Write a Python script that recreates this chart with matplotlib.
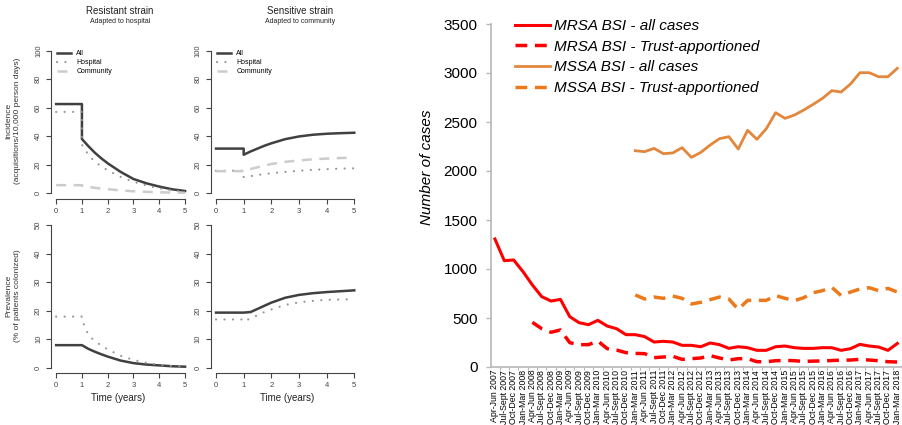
import numpy as np
import matplotlib
matplotlib.use("Agg")
import matplotlib.pyplot as plt

plt.rcParams['font.family'] = ['Liberation Sans', 'DejaVu Sans']

# ---------------- left: model output (4 panels) ----------------
t_grid = [0, 1, 1, 1.25, 1.5, 1.75, 2, 2.5, 3, 3.5, 4, 4.5, 5]

res_inc_all = [62.5, 62.5, 38, 33, 28.4, 24.5, 21, 15, 10, 7, 4.7, 2.8, 1.6]
res_inc_hosp = [57, 57, 34, 27, 22, 19, 16, 11.5, 8, 5.5, 3.5, 2, 1]
res_inc_comm = [5.7, 5.7, 5.3, 4.5, 3.8, 3.3, 2.9, 2, 1.4, 1, 0.7, 0.5, 0.4]

sen_inc_all = [31.3, 31.3, 27, 29.3, 31.3, 33.3, 35, 37.9, 39.8, 41, 41.7, 42.1, 42.4]
sen_inc_hosp = [15.8, 15.8, 11.3, 12, 12.8, 13.5, 14, 15, 15.8, 16.4, 16.9, 17.3, 17.5]
sen_inc_comm = [15.5, 15.5, 16, 17, 18.2, 19.4, 20.5, 22, 23, 23.8, 24.3, 24.7, 25]

res_prev_all = [7.9, 7.9, 7.9, 6.6, 5.6, 4.7, 3.9, 2.5, 1.6, 1.1, 0.8, 0.5, 0.35]
res_prev_hosp = [17.9, 17.9, 16.7, 11.5, 9.3, 7.8, 6.4, 4.2, 2.7, 1.7, 1.0, 0.6, 0.4]

sen_prev_all = [19.3, 19.3, 19.3, 19.5, 20.6, 21.7, 22.8, 24.5, 25.5, 26.1, 26.5, 26.8, 27.1]
sen_prev_hosp = [16.9, 16.9, 16.4, 17.2, 18.4, 19.5, 20.4, 22, 22.9, 23.4, 23.8, 23.9, 24]

# ---------------- right: BSI counts per quarter ----------------
quarters = [
    "Apr-Jun 2007", "Jul-Sept 2007", "Oct-Dec 2007", "Jan-Mar 2008",
    "Apr-Jun 2008", "Jul-Sept 2008", "Oct-Dec 2008", "Jan-Mar 2009",
    "Apr-Jun 2009", "Jul-Sept 2009", "Oct-Dec 2009", "Jan-Mar 2010",
    "Apr-Jun 2010", "Jul-Sept 2010", "Oct-Dec 2010", "Jan-Mar 2011",
    "Apr-Jun 2011", "Jul-Sept 2011", "Oct-Dec 2011", "Jan-Mar 2012",
    "Apr-Jun 2012", "Jul-Sept 2012", "Oct-Dec 2012", "Jan-Mar 2013",
    "Apr-Jun 2013", "Jul-Sept 2013", "Oct-Dec 2013", "Jan-Mar 2014",
    "Apr-Jun 2014", "Jul-Sept 2014", "Oct-Dec 2014", "Jan-Mar 2015",
    "Apr-Jun 2015", "Jul-Sept 2015", "Oct-Dec 2015", "Jan-Mar 2016",
    "Apr-Jun 2016", "Jul-Sept 2016", "Oct-Dec 2016", "Jan-Mar 2017",
    "Apr-Jun 2017", "Jul-Sept 2017", "Oct-Dec 2017", "Jan-Mar 2018",
]
mrsa_all = [1306, 1085, 1092, 973, 837, 718, 673, 690, 513, 452, 432, 476,
            418, 391, 330, 330, 310, 255, 262, 255, 221, 221, 207, 245,
            228, 190, 207, 197, 170, 170, 207, 214, 197, 190, 190, 197,
            197, 170, 187, 231, 214, 204, 170, 240]
mrsa_trust = [np.nan] * 4 + [456, 391, 354, 378, 248, 228, 228, 265, 187, 173,
                             146, 139, 136, 95, 102, 109, 78, 85, 92, 116, 92,
                             71, 85, 85, 54, 54, 64, 68, 64, 57, 60, 62, 66, 70,
                             71, 78, 71, 64, 54, 51]
mssa_all = [np.nan] * 15 + [2207, 2197, 2231, 2177, 2184, 2238, 2139, 2190,
                            2265, 2330, 2350, 2224, 2415, 2323, 2432, 2595,
                            2537, 2571, 2622, 2680, 2741, 2820, 2806, 2888,
                            3003, 3003, 2962, 2962, 3048]
mssa_trust = [np.nan] * 15 + [735, 694, 714, 701, 724, 701, 643, 660, 687, 714,
                              694, 588, 680, 680, 680, 728, 701, 677, 707, 758,
                              779, 813, 728, 765, 796, 809, 779, 802, 765]

W, H = 902, 425


def px_rect(l, t, r, b):
    return [l / W, 1 - b / H, (r - l) / W, (b - t) / H]


fig = plt.figure(figsize=(W / 100, H / 100), dpi=100)

axc = '#444444'
c_all = '#404040'
c_hosp = '#959595'
c_comm = '#cccccc'


def r_style(ax, ymax, yticks):
    ax.set_xlim(-0.2, 5.2)
    ax.set_ylim(-0.04 * ymax, 1.04 * ymax)
    for s in ['top', 'right']:
        ax.spines[s].set_visible(False)
    ax.spines['left'].set_bounds(0, ymax)
    ax.spines['bottom'].set_bounds(0, 5)
    for s in ['left', 'bottom']:
        ax.spines[s].set_color(axc)
        ax.spines[s].set_linewidth(0.8)
    ax.set_xticks(range(6))
    ax.set_yticks(yticks)
    ax.tick_params(colors=axc, labelsize=5.5, length=3.5, width=0.8, pad=3)
    for lab in ax.get_yticklabels():
        lab.set_rotation(90)
        lab.set_va('center')


def curves(ax, all_v, hosp_v, comm_v=None, legend=False):
    ax.plot(t_grid, all_v, color=c_all, lw=1.8, label='All',
            solid_joinstyle='round')
    ax.plot(t_grid, hosp_v, color=c_hosp, lw=1.6, ls=(0, (0.01, 3.8)),
            dash_capstyle='round', label='Hospital')
    if comm_v is not None:
        ax.plot(t_grid, comm_v, color=c_comm, lw=1.8, ls=(0, (4, 3)),
                label='Community')
    if legend:
        ax.legend(loc='upper left', bbox_to_anchor=(0.043, 0.965),
                  frameon=False, fontsize=5, handlelength=2.0,
                  handletextpad=0.8, labelspacing=0.28, borderpad=0,
                  borderaxespad=0)


ax1 = fig.add_axes(px_rect(51, 44.8, 190.2, 199))
curves(ax1, res_inc_all, res_inc_hosp, res_inc_comm, legend=True)
r_style(ax1, 100, [0, 20, 40, 60, 80, 100])

ax2 = fig.add_axes(px_rect(210.5, 44.8, 359.8, 199))
curves(ax2, sen_inc_all, sen_inc_hosp, sen_inc_comm, legend=True)
r_style(ax2, 100, [0, 20, 40, 60, 80, 100])

ax3 = fig.add_axes(px_rect(51, 219.3, 190.2, 373.4))
curves(ax3, res_prev_all, res_prev_hosp)
r_style(ax3, 50, [0, 10, 20, 30, 40, 50])

ax4 = fig.add_axes(px_rect(210.5, 219.3, 359.8, 373.4))
curves(ax4, sen_prev_all, sen_prev_hosp)
r_style(ax4, 50, [0, 10, 20, 30, 40, 50])


def ftext(x, y, s, **kw):
    fig.text(x / W, 1 - y / H, s, ha='center', va='center', **kw)


ftext(120, 10.5, 'Resistant strain', fontsize=7, color='#222222')
ftext(120, 21.5, 'Adapted to hospital', fontsize=5, color='#222222')
ftext(300, 10.5, 'Sensitive strain', fontsize=7, color='#222222')
ftext(300, 21.5, 'Adapted to community', fontsize=5, color='#222222')
ftext(13, 121, 'Incidence\n(acquisitions/10,000 person days)', fontsize=6,
      rotation=90, color='#333333', linespacing=1.25)
ftext(13, 296, 'Prevalence\n(% of patients colonized)', fontsize=6,
      rotation=90, color='#333333', linespacing=1.25)
ftext(118, 398, 'Time (years)', fontsize=7, color='#222222')
ftext(287, 398, 'Time (years)', fontsize=7, color='#222222')

# ---------------- right chart ----------------
ax5 = fig.add_axes(px_rect(491, 24, 902, 367))
x = np.arange(len(quarters))
red = '#ff0000'
org_solid = '#e2873c'
org_dash = '#ec7a1c'
ax5.plot(x, mrsa_all, color=red, lw=2.2, label='MRSA BSI - all cases')
ax5.plot(x, mrsa_trust, color=red, lw=2.5, ls=(0, (3.4, 2.2)),
         label='MRSA BSI - Trust-apportioned')
ax5.plot(x, mssa_all, color=org_solid, lw=2.0, label='MSSA BSI - all cases')
ax5.plot(x, mssa_trust, color=org_dash, lw=2.5, ls=(0, (3.4, 2.2)),
         label='MSSA BSI - Trust-apportioned')
ax5.set_xlim(-0.42, 43.06)
ax5.set_ylim(0, 3500)
for s in ['top', 'right']:
    ax5.spines[s].set_visible(False)
for s in ['left', 'bottom']:
    ax5.spines[s].set_color('#b8b8b8')
    ax5.spines[s].set_linewidth(1.2)
ax5.set_yticks(range(0, 3501, 500))
ax5.tick_params(axis='y', colors='#b8b8b8', labelcolor='black', labelsize=11,
                length=3.6, width=1, pad=6)
ax5.set_xticks(x)
ax5.set_xticklabels(quarters, rotation=90, fontsize=6.3)
ax5.tick_params(axis='x', which='major', length=0, pad=2)
ax5.set_xticks(x + 0.5, minor=True)
ax5.tick_params(axis='x', which='minor', length=2.5, width=0.8,
                colors='#b8b8b8')
ax5.legend(loc='upper left', bbox_to_anchor=(515 / W, 1 - 19 / H),
           bbox_transform=fig.transFigure, frameon=False,
           prop={'style': 'italic', 'size': 11}, handlelength=2.3,
           handletextpad=0.25, labelspacing=0.44, borderpad=0,
           borderaxespad=0)
ftext(427, 167, 'Number of cases', fontsize=11, style='italic', rotation=90)

fig.savefig('out.png', dpi=100)
